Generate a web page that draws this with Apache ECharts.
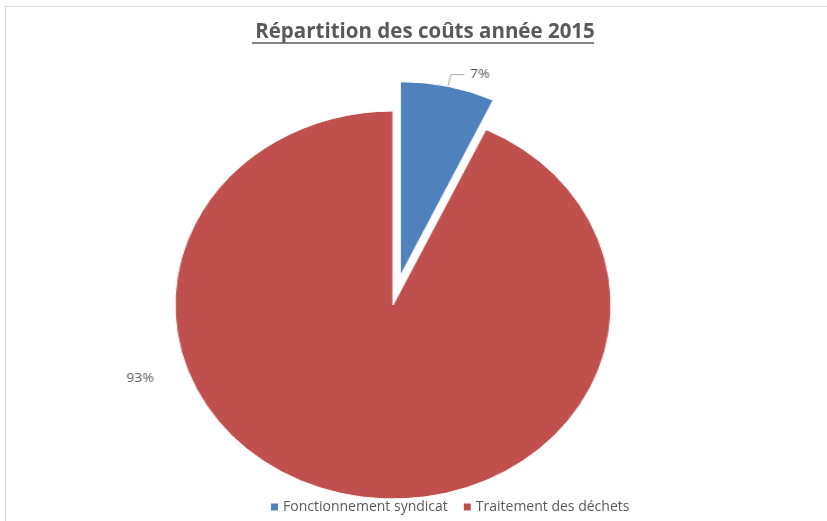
<!DOCTYPE html>
<html>
<head>
<meta charset="utf-8">
<script src="https://cdn.jsdelivr.net/npm/echarts@6/dist/echarts.min.js"></script>
<style>
  html, body { margin: 0; padding: 0; background: #fff; }
  #pie { position: absolute; left: 0; top: 0; width: 827px; height: 521px;
         transform: scaleX(1.124); transform-origin: 393px 0; }
  #chart { position: absolute; left: 0; top: 0; width: 827px; height: 521px; }
  #frame { position: absolute; left: 5px; top: 6px; width: 830px; height: 530px;
           border-top: 1px solid #d9d9d9; border-left: 1px solid #d9d9d9; pointer-events: none; }
</style>
</head>
<body>
<div id="pie"></div>
<div id="chart"></div>
<div id="frame"></div>
<script>
// données du graphique
var categories = ['Fonctionnement syndicat', 'Traitement des déchets'];
var values = [7, 93];
var colors = ['#4F81BD', '#C0504D'];

var pieData = [];
for (var i = 0; i < categories.length; i++) {
    pieData.push({
        name: categories[i],
        value: values[i],
        selected: i === 0,
        itemStyle: { color: colors[i] },
        labelLine: { show: i === 0 }
    });
}

// le camembert (étiré en largeur comme dans Excel)
var pieChart = echarts.init(document.getElementById('pie'));
pieChart.setOption({
    animation: false,
    series: [{
        type: 'pie',
        center: [393, 305],
        radius: 194,
        startAngle: 90,
        clockwise: true,
        selectedMode: 'single',
        selectedOffset: 30,
        avoidLabelOverlap: false,
        itemStyle: { borderColor: '#fff', borderWidth: 1 },
        emphasis: { disabled: true },
        label: {
            show: true,
            position: 'outside',
            formatter: '{d}%',
            fontFamily: 'Open Sans',
            fontSize: 12.5,
            color: '#595959'
        },
        labelLine: {
            length: 12,
            length2: 12,
            lineStyle: { color: '#a6a6a6', width: 1 }
        },
        labelLayout: function (params) {
            if (params.dataIndex === 1) {
                return { x: 168, y: 378, align: 'center', verticalAlign: 'middle' };
            }
            return {};
        },
        data: pieData
    }]
});

// titre et légende
var myChart = echarts.init(document.getElementById('chart'));
myChart.setOption({
    animation: false,
    title: {
        text: 'Répartition des coûts année 2015',
        left: 420,
        textAlign: 'center',
        top: 17,
        textStyle: {
            fontFamily: 'Open Sans',
            fontWeight: 'bold',
            fontSize: 20.5,
            color: '#595959'
        }
    },
    graphic: [{
        type: 'line',
        shape: { x1: 252, y1: 43, x2: 594, y2: 43 },
        style: { stroke: '#595959', lineWidth: 1.5 }
    }],
    legend: {
        bottom: 2,
        left: 266,
        itemWidth: 7,
        itemHeight: 7,
        itemGap: 16,
        icon: 'rect',
        textStyle: { fontFamily: 'Open Sans', fontSize: 14, color: '#595959' },
        data: categories
    },
    series: [{
        type: 'pie',
        center: [393, 305],
        radius: 0,
        silent: true,
        label: { show: false },
        labelLine: { show: false },
        data: pieData
    }]
});
</script>
</body>
</html>
